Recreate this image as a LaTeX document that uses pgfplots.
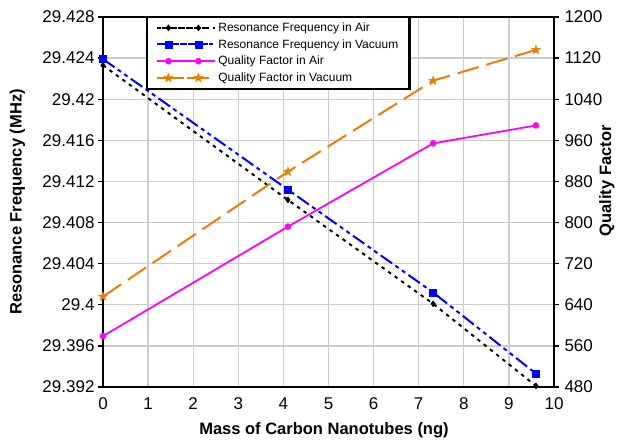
\documentclass[border=0pt]{standalone}
\usepackage{fontspec}
\setmainfont{Liberation Sans}
\usepackage{pgfplots}
\pgfplotsset{compat=1.18}
\definecolor{qorange}{RGB}{237,125,0}
\definecolor{qmag}{RGB}{255,0,255}
\definecolor{qblue}{RGB}{0,0,255}
\pgfdeclareplotmark{fstar}{%
  \pgfpathmoveto{\pgfpointpolar{90}{1.3\pgfplotmarksize}}%
  \pgfpathlineto{\pgfpointpolar{126}{0.55\pgfplotmarksize}}%
  \pgfpathlineto{\pgfpointpolar{162}{1.3\pgfplotmarksize}}%
  \pgfpathlineto{\pgfpointpolar{198}{0.55\pgfplotmarksize}}%
  \pgfpathlineto{\pgfpointpolar{234}{1.3\pgfplotmarksize}}%
  \pgfpathlineto{\pgfpointpolar{270}{0.55\pgfplotmarksize}}%
  \pgfpathlineto{\pgfpointpolar{306}{1.3\pgfplotmarksize}}%
  \pgfpathlineto{\pgfpointpolar{342}{0.55\pgfplotmarksize}}%
  \pgfpathlineto{\pgfpointpolar{18}{1.3\pgfplotmarksize}}%
  \pgfpathlineto{\pgfpointpolar{54}{0.55\pgfplotmarksize}}%
  \pgfpathclose\pgfusepathqfillstroke}
\pgfplotsset{
  airf/.style={black, line width=2pt, dash pattern=on 3.5pt off 4.5pt, mark=diamond*, mark size=3pt, mark options={solid, line width=0.5pt}},
  vacf/.style={qblue, line width=2pt, dash pattern=on 14pt off 4pt on 4pt off 4pt on 4pt off 4pt, mark=square*, mark size=3.4pt, mark options={solid, line width=0.5pt}},
  airq/.style={qmag, line width=1.8pt, solid, mark=*, mark size=3pt, mark options={solid, line width=0.5pt}},
  vacq/.style={qorange, line width=2pt, dash pattern=on 22pt off 8pt, mark=fstar, mark size=3.5pt, mark options={solid, line width=0.5pt}},
  myleg/.style={legend image code/.code={%
    \path (-5pt,0pt) -- (53pt,0pt);
    \draw[mark repeat=2, mark phase=2, ##1] plot coordinates {(0pt,0pt) (6pt,0pt) (20pt,0pt) (36pt,0pt) (46pt,0pt)};}},
  common/.style={
    at={(103pt,56pt)}, anchor=south west, scale only axis,
    width=451pt, height=370pt, xmin=0, xmax=10, clip=false,
    tick label style={font=\fontsize{17}{17}\selectfont},
    label style={font=\fontsize{16.5}{18}\selectfont\bfseries},
    /pgf/number format/.cd, fixed, precision=3, 1000 sep={}, assume math mode=true,
  },
}
\begin{document}
\begin{tikzpicture}[x=1pt,y=1pt]
\useasboundingbox (0,0) rectangle (635,443);
\begin{axis}[common,
  ymin=29.392, ymax=29.428,
  xtick={0,1,2,3,4,5,6,7,8,9,10},
  ytick={29.392,29.396,29.4,29.404,29.408,29.412,29.416,29.42,29.424,29.428},
  grid=major, grid style={black!20, line width=1.3pt},
  axis line style={line width=2.4pt},
  ytick align=outside, ytick pos=left, xtick style={draw=none},
  major tick length=5pt, ytick style={line width=1.3pt, black},
  xticklabel style={yshift=-7pt},
  xlabel={Mass of Carbon Nanotubes (ng)},
  ylabel={Resonance Frequency (MHz)},
  xlabel style={at={(axis description cs:0.49,-0.118)}, anchor=center},
  ylabel style={at={(axis description cs:-0.19,0.5)}, anchor=center},
]
\addplot[airf] coordinates {(0,29.4233) (4.1,29.4102) (7.32,29.4001) (9.6,29.3921)};
\addplot[vacf] coordinates {(0,29.4239) (4.1,29.4112) (7.32,29.4012) (9.6,29.3933)};
\end{axis}
\begin{axis}[common,
  ymin=480, ymax=1200,
  ytick={480,560,640,720,800,880,960,1040,1120,1200},
  axis x line=none, axis y line*=right,
  axis line style={line width=2.4pt, -},
  ytick align=outside, major tick length=5pt, ytick style={line width=1.3pt, black},
  yticklabel style={xshift=2pt},
  ylabel={Quality Factor},
  ylabel style={at={(axis description cs:1.117,0.557)}, anchor=center},
  legend style={at={(axis description cs:0.098,1)}, anchor=north west, name=leg,
    draw=black, font=\fontsize{12}{13}\selectfont,
    inner xsep=9pt, inner ysep=3.5pt, row sep=2.5pt, cells={anchor=west}},
  myleg,
]
\addlegendimage{airf}
\addlegendentry{Resonance Frequency in Air}
\addlegendimage{vacf}
\addlegendentry{Resonance Frequency in Vacuum}
\addplot[airq] coordinates {(0,579) (4.1,792) (7.32,954) (9.6,989)};
\addlegendentry{Quality Factor in Air}
\addplot[vacq] coordinates {(0,656) (4.1,899) (7.32,1076) (9.6,1136)};
\addlegendentry{Quality Factor in Vacuum}
\end{axis}
\draw[line width=2.2pt] (leg.north west) rectangle (leg.south east);
\end{tikzpicture}
\end{document}
